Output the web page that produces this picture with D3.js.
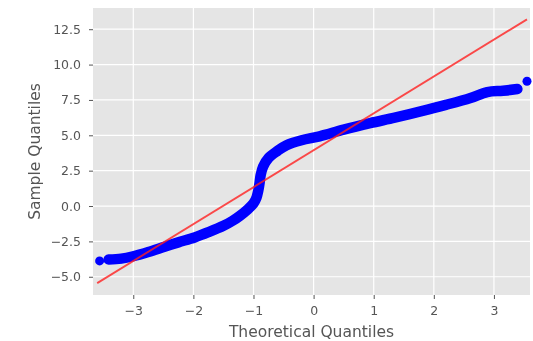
<!DOCTYPE html>
<html>
<head>
<meta charset="utf-8">
<script src="https://cdn.jsdelivr.net/npm/d3@7"></script>
<style>
  body { margin: 0; background: #fff; }
  svg { display: block; filter: blur(0.7px); }
  .tick text { font-family: "DejaVu Sans", sans-serif; fill: #555; }
</style>
</head>
<body>
<div id="chart"></div>
<script>
// theoretical quantiles and sample quantiles
var theoretical = [-3.56, -3.41, -3.2, -3.0, -2.75, -2.48, -2.25, -1.98, -1.75, -1.5,
  -1.35, -1.23, -1.1, -1.0, -0.95, -0.92, -0.9, -0.88, -0.84, -0.75,
  -0.6, -0.45, -0.2, 0.1, 0.5, 0.94, 1.35, 1.78, 2.2, 2.61, 2.89, 3.15, 3.39, 3.55];
var sample = [-3.88, -3.78, -3.72, -3.55, -3.25, -2.88, -2.57, -2.22, -1.85, -1.4,
  -1.05, -0.7, -0.25, 0.19, 0.6, 1.1, 1.6, 2.2, 2.79, 3.4,
  3.9, 4.3, 4.65, 4.93, 5.4, 5.86, 6.25, 6.69, 7.15, 7.64, 8.06, 8.15, 8.27, 8.82];

// fitted reference line end points
var lineX = [-3.6, 3.55];
var lineY = [-5.45, 13.2];

var xTicks = [-3, -2, -1, 0, 1, 2, 3];
var yTicks = [-5, -2.5, 0, 2.5, 5, 7.5, 10, 12.5];

var svgWidth = 533;
var svgHeight = 341;

var margin = { top: 8, right: 3, bottom: 46, left: 93 };
var width = svgWidth - margin.left - margin.right;
var height = svgHeight - margin.top - margin.bottom;

var svg = d3.select("#chart")
  .append("svg")
  .attr("width", svgWidth)
  .attr("height", svgHeight);

var chartGroup = svg.append("g")
  .attr("transform", `translate(${margin.left}, ${margin.top})`);

var x = d3.scaleLinear().domain([-3.67, 3.6]).range([0, width]);
var y = d3.scaleLinear().domain([-6.29, 14.0]).range([height, 0]);

// grey panel
chartGroup.append("rect")
  .attr("width", width)
  .attr("height", height)
  .attr("fill", "#e5e5e5");

// grid
chartGroup.selectAll(".vgrid")
  .data(xTicks)
  .enter()
  .append("line")
  .attr("x1", d => x(d)).attr("x2", d => x(d))
  .attr("y1", 0).attr("y2", height)
  .attr("stroke", "#fff")
  .attr("stroke-width", 1.2);

chartGroup.selectAll(".hgrid")
  .data(yTicks)
  .enter()
  .append("line")
  .attr("x1", 0).attr("x2", width)
  .attr("y1", d => y(d)).attr("y2", d => y(d))
  .attr("stroke", "#fff")
  .attr("stroke-width", 1.2);

// axes
var fmtY = d3.format(".1f");
var bottomAxis = d3.axisBottom(x).tickValues(xTicks).tickSize(4).tickPadding(7)
  .tickFormat(d => d3.format("d")(d).replace("-", "\u2212"));
var leftAxis = d3.axisLeft(y).tickValues(yTicks).tickSize(4).tickPadding(8)
  .tickFormat(d => fmtY(d).replace("-", "\u2212"));

var xAxis = chartGroup.append("g")
  .attr("transform", `translate(0, ${height})`)
  .call(bottomAxis);
var yAxis = chartGroup.append("g").call(leftAxis);

[xAxis, yAxis].forEach(function(ax) {
  ax.select(".domain").remove();
  ax.selectAll(".tick line").attr("stroke", "#555");
  ax.selectAll(".tick text").style("font-size", "12.5px");
});

// points: band through the inner points, dots on every point
var pts = theoretical.map((t, i) => [t, sample[i]]);

var band = d3.line()
  .x(d => x(d[0]))
  .y(d => y(d[1]))
  .curve(d3.curveCatmullRom);

chartGroup.append("path")
  .datum(pts.slice(1, -1))
  .attr("d", band)
  .attr("fill", "none")
  .attr("stroke", "#0000ff")
  .attr("stroke-width", 10.5)
  .attr("stroke-linecap", "round")
  .attr("stroke-linejoin", "round");

chartGroup.selectAll("circle")
  .data(pts)
  .enter()
  .append("circle")
  .attr("cx", d => x(d[0]))
  .attr("cy", d => y(d[1]))
  .attr("r", 4.5)
  .attr("fill", "#0000ff");

// reference line
chartGroup.append("line")
  .attr("x1", x(lineX[0])).attr("y1", y(lineY[0]))
  .attr("x2", x(lineX[1])).attr("y2", y(lineY[1]))
  .attr("stroke", "#ff2020")
  .attr("stroke-opacity", 0.8)
  .attr("stroke-width", 1.9);

// axis labels
svg.append("text")
  .attr("x", margin.left + width / 2)
  .attr("y", 337)
  .attr("text-anchor", "middle")
  .style("font-family", "DejaVu Sans, sans-serif")
  .style("font-size", "15.5px")
  .attr("fill", "#555")
  .text("Theoretical Quantiles");

svg.append("text")
  .attr("transform", `translate(40, ${margin.top + height / 2}) rotate(-90)`)
  .attr("text-anchor", "middle")
  .style("font-family", "DejaVu Sans, sans-serif")
  .style("font-size", "15.5px")
  .attr("fill", "#555")
  .text("Sample Quantiles");
</script>
</body>
</html>
